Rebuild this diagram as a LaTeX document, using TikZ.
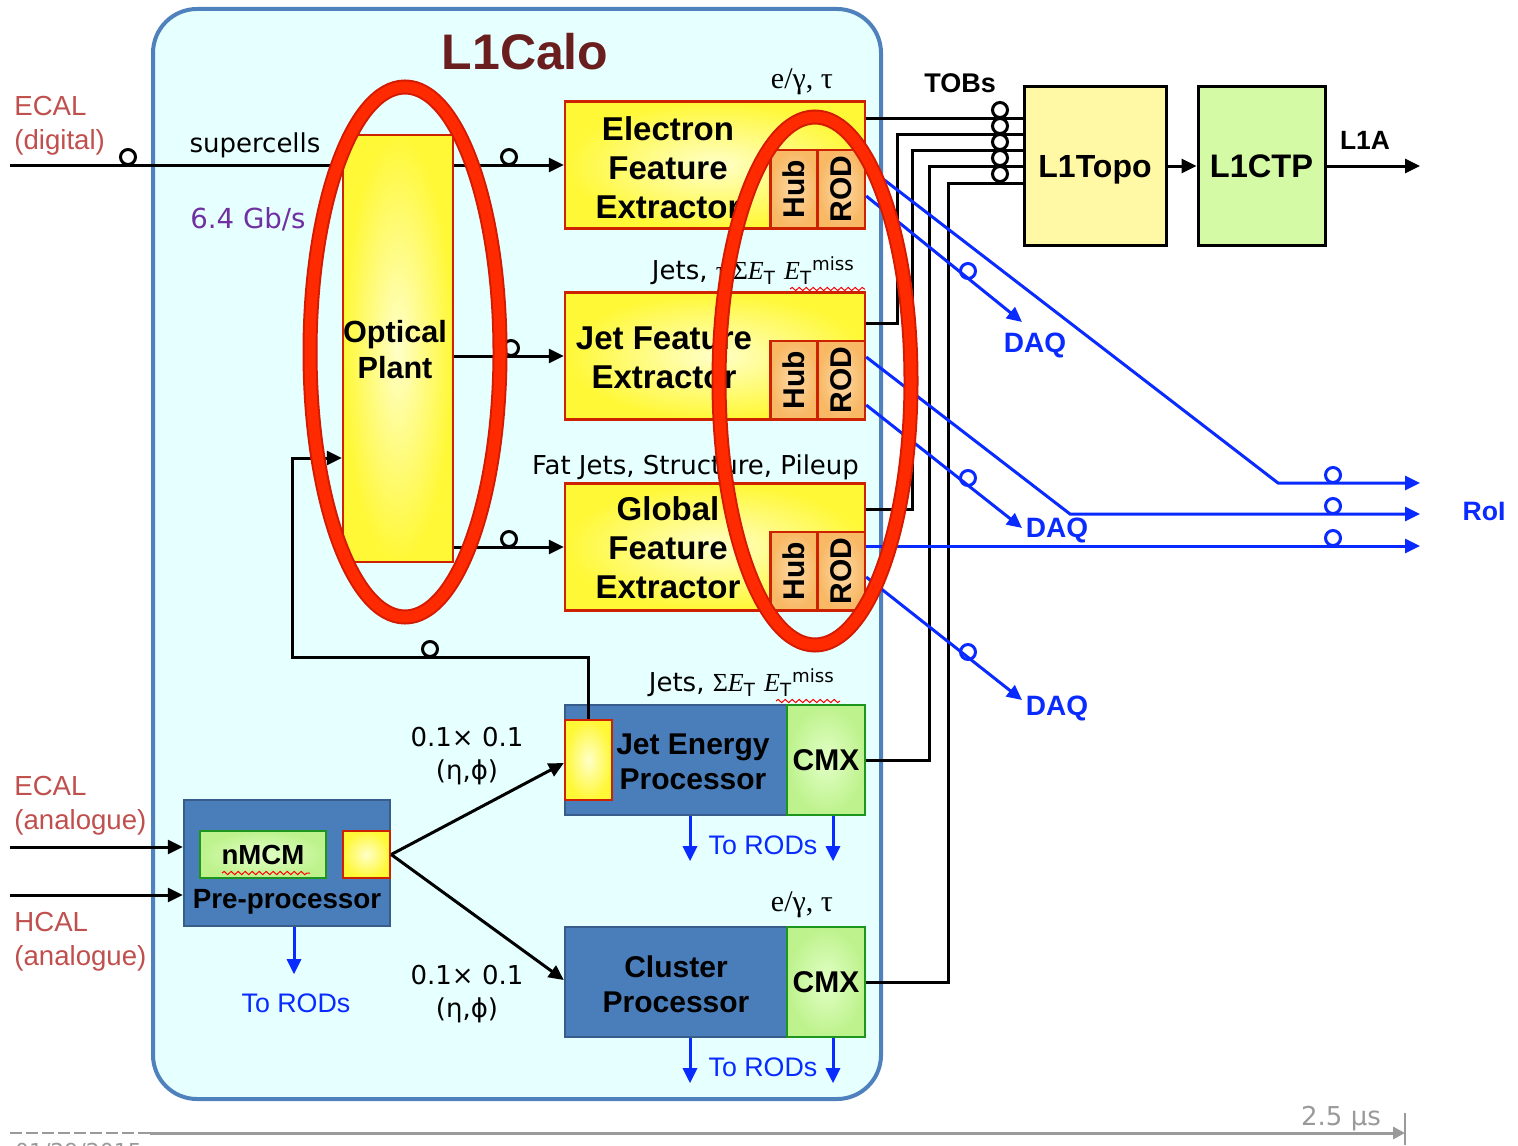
\documentclass[tikz,border=0pt]{standalone}
\usepackage{fontspec}
\setmainfont{Liberation Sans}
\newfontfamily\dvs{DejaVu Sans}
\newfontfamily\ser{Liberation Serif}
\usetikzlibrary{arrows.meta,decorations.pathmorphing,calc}
\definecolor{calofill}{HTML}{E6FFFF}
\definecolor{caloedge}{HTML}{4F81BD}
\definecolor{titlered}{HTML}{6B1E1E}
\definecolor{ecalred}{HTML}{C0504D}
\definecolor{boxred}{HTML}{CC2200}
\definecolor{brightyel}{HTML}{FFF836}
\definecolor{paleyel}{HTML}{FFFFC8}
\definecolor{hubin}{HTML}{FDD9A6}
\definecolor{hubout}{HTML}{F8B864}
\definecolor{ppblue}{HTML}{4A7EBB}
\definecolor{ppedge}{HTML}{385D8A}
\definecolor{cmxin}{HTML}{E2FFC6}
\definecolor{cmxout}{HTML}{BDF28C}
\definecolor{cmxedge}{HTML}{1E961E}
\definecolor{daqblue}{HTML}{0A2BFF}
\definecolor{ellred}{HTML}{FF2A00}
\definecolor{elldark}{HTML}{D41A00}
\definecolor{topoyel}{HTML}{FFF9A6}
\definecolor{ctpgreen}{HTML}{D4FAA6}
\definecolor{gbpurple}{HTML}{7030A0}
\definecolor{axisgray}{HTML}{9A9A9A}
\tikzset{
  wire/.style={line width=1.5pt, draw=black},
  arr/.style={wire, -{Triangle[length=7.5pt,width=7pt]}},
  bwire/.style={line width=1.5pt, draw=daqblue},
  barr/.style={bwire, -{Triangle[length=7.5pt,width=7pt]}},
  ring/.style={circle, draw=black, line width=1.5pt, inner sep=0pt, minimum size=7.5pt},
  bring/.style={ring, draw=daqblue},
  yelbox/.style={draw=boxred, line width=1.2pt, inner sep=0pt, inner color=paleyel, outer color=brightyel},
  fexbox/.style={yelbox, minimum width=150pt, minimum height=63.5pt},
  hubbox/.style={draw=boxred, line width=1.2pt, inner sep=0pt, inner color=hubin, outer color=hubout,
     rotate=90, minimum width=39pt, minimum height=23.5pt, font=\bfseries\fontsize{15}{15}\selectfont},
  bluebox/.style={draw=ppedge, line width=1.2pt, fill=ppblue, inner sep=0pt},
  cmxbox/.style={draw=cmxedge, line width=1.2pt, inner color=cmxin, outer color=cmxout, inner sep=0pt,
     minimum width=39pt, minimum height=55pt, font=\bfseries\fontsize{15}{15}\selectfont},
  fextext/.style={align=center, font=\bfseries\fontsize{16.5}{19.5}\selectfont},
  boldtext/.style={align=center, font=\bfseries\fontsize{15}{17.5}\selectfont},
  lbl/.style={font=\dvs\fontsize{13}{15}\selectfont},
  serlbl/.style={font=\ser\fontsize{15}{17}\selectfont},
  redtext/.style={align=left, text=ecalred, inner sep=0pt, font=\fontsize{13.8}{17}\selectfont},
  bluelbl/.style={text=daqblue, font=\fontsize{13.4}{15}\selectfont},
  daqlbl/.style={text=daqblue, font=\bfseries\fontsize{14}{15}\selectfont},
  wavy/.style={draw=red, line width=0.5pt, decorate, decoration={snake, segment length=3.5pt, amplitude=0.8pt}},
  hilite/.style={draw=elldark, line width=7.5pt},
  hilite2/.style={draw=ellred, line width=5.5pt},
}
\begin{document}
\begin{tikzpicture}[x=0.5pt,y=-0.5pt]
\useasboundingbox (0,0) rectangle (1518,1145);
\fill[white] (0,0) rectangle (1518,1145);

% L1Calo frame
\node[draw=caloedge, line width=2pt, fill=calofill, rounded corners=22pt, minimum width=364pt,
      minimum height=545pt, inner sep=0pt] (calo) at (517,554) {};
\node[text=titlered, font=\bfseries\fontsize{25}{25}\selectfont] (title) at (525,52) {L1Calo};

% ---------- boxes ----------
\node[yelbox, minimum width=55pt, minimum height=213.5pt] (opt) at (398,348.5) {};
\node[boldtext, font=\bfseries\fontsize{15.3}{18}\selectfont] (optt) at (395,350) {Optical\\Plant};

\node[fexbox] (efex) at (715,165) {};
\node[hubbox] (hub1) at (794,189) {Hub};
\node[hubbox] (rod1) at (841.5,189) {ROD};
\node[fextext] (efext) at (668,168) {Electron\\Feature\\Extractor};

\node[fexbox] (jfex) at (715,356) {};
\node[hubbox] (hub2) at (794,380) {Hub};
\node[hubbox] (rod2) at (841.5,380) {ROD};
\node[fextext] (jfext) at (664,358) {Jet Feature\\Extractor};

\node[fexbox] (gfex) at (715,547) {};
\node[hubbox] (hub3) at (794,571) {Hub};
\node[hubbox] (rod3) at (841.5,571) {ROD};
\node[fextext] (gfext) at (668,548) {Global\\Feature\\Extractor};

\node[bluebox, minimum width=103pt, minimum height=63pt] (pp) at (287,863) {};
\node[draw=cmxedge, line width=1.2pt, inner color=cmxin, outer color=cmxout, inner sep=0pt,
      minimum width=63pt, minimum height=23.5pt, font=\bfseries\fontsize{13.8}{14}\selectfont] (nmcm) at (263,854.5) {nMCM};
\node[yelbox, minimum width=23.5pt, minimum height=23.5pt] (ppy) at (366.5,854.5) {};
\node[boldtext, font=\bfseries\fontsize{13.9}{15}\selectfont] (ppt) at (287,902) {Pre-processor};

\node[bluebox, minimum width=150pt, minimum height=55pt] (jep) at (715,760) {};
\node[yelbox, minimum width=23.5pt, minimum height=40pt] (jepy) at (588.5,760) {};
\node[cmxbox] (cmx1) at (826,760) {CMX};
\node[boldtext] (jept) at (693,762) {Jet Energy\\Processor};

\node[bluebox, minimum width=150pt, minimum height=55pt] (cp) at (715,982) {};
\node[cmxbox] (cmx2) at (826,982) {CMX};
\node[boldtext] (cpt) at (676,984) {Cluster\\Processor};

\node[draw=black, line width=1.5pt, fill=topoyel, minimum width=71pt, minimum height=79pt, text depth=0pt,
      font=\bfseries\fontsize{16}{16}\selectfont] (topo) at (1095,166) {L1Topo};
\node[draw=black, line width=1.5pt, fill=ctpgreen, minimum width=63.5pt, minimum height=79pt, text depth=0pt,
      font=\bfseries\fontsize{16.3}{16}\selectfont] (ctp) at (1261.5,166) {L1CTP};

% ---------- labels ----------
\node[redtext, anchor=west] (ecald) at (14,126) {ECAL\\(digital)};
\node[redtext, anchor=west] (ecala) at (14,806) {ECAL\\(analogue)};
\node[redtext, anchor=west] (hcala) at (14,942) {HCAL\\(analogue)};
\node[lbl] (sc) at (255,145) {supercells};
\node[lbl, text=gbpurple, font=\dvs\fontsize{13.8}{15}\selectfont] (rate) at (248,219) {6.4 Gb/s};
\node[serlbl, anchor=east] (eglab) at (840,82) {e/γ, τ};
\node[lbl, anchor=east] (jlab) at (862,271) {Jets, {\ser τ Σ\textit{E}}\textsubscript{T} {\ser\textit{E}}\textsubscript{T}\textsuperscript{miss}};
\node[lbl, anchor=east] (glab) at (866,467) {Fat Jets, Structure, Pileup};
\node[lbl, anchor=east] (jeplab) at (842,683) {Jets, {\ser Σ\textit{E}}\textsubscript{T} {\ser\textit{E}}\textsubscript{T}\textsuperscript{miss}};
\node[serlbl, anchor=east] (cplab) at (840,905) {e/γ, τ};
\node[lbl, align=center, font=\dvs\fontsize{13}{16.5}\selectfont] (gran1) at (467,756) {0.1× 0.1\\(η,ϕ)};
\node[lbl, align=center, font=\dvs\fontsize{13}{16.5}\selectfont] (gran2) at (467,994) {0.1× 0.1\\(η,ϕ)};
\node[font=\bfseries\fontsize{13.5}{14}\selectfont] (tobs) at (960,83) {TOBs};
\node[font=\bfseries\fontsize{13.2}{14}\selectfont] (l1a) at (1365,140) {L1A};
\node[bluelbl] (rods0) at (296,1003) {To RODs};
\node[bluelbl] (rods1) at (763,845) {To RODs};
\node[bluelbl] (rods2) at (763,1067) {To RODs};
\node[daqlbl] (daq1) at (1035,345) {DAQ};
\node[daqlbl] (daq2) at (1057,530) {DAQ};
\node[daqlbl] (daq3) at (1057,708) {DAQ};
\node[daqlbl, font=\bfseries\fontsize{13.3}{15}\selectfont] (roi) at (1484,511) {RoI};

% red spell-check squiggles
\draw[wavy] (790,289) -- (865,289);
\draw[wavy] (776,701) -- (840,701);
\draw[wavy] (222,873) -- (310,873);

% ---------- black connectors ----------
\coordinate (ecalin) at (10,165);
\coordinate (ecalain) at (10,847);
\coordinate (hcalain) at (10,895);
\draw[wire] (ecalin) -- (opt.west |- ecalin);
\draw[arr] (opt.east |- efex.west) -- (efex.west);
\draw[arr] (opt.east |- jfex.west) -- (jfex.west);
\draw[arr] (opt.east |- gfex.west) -- (gfex.west);
\node[ring] (r1) at (128,157) {};
\node[ring] (r2) at (509,157) {};
\node[ring] (r3) at (511,348) {};
\node[ring] (r4) at (509,539) {};
\coordinate (fbc) at (292,657);
\coordinate (fbin) at (0,458);
\draw[arr] (jepy.north) |- (fbc) |- (opt.west |- fbin);
\node[ring] (r5) at (430,649) {};

\draw[arr] (ecalain) -- (pp.west |- ecalain);
\draw[arr] (hcalain) -- (pp.west |- hcalain);
\draw[arr] (ppy.east) -- (jep.west |- 0,763);
\draw[arr] (ppy.east) -- (cp.west |- 0,980);

% TOBs to L1Topo
\draw[wire] (efex.east |- 0,118) -- (topo.west |- 0,118);
\draw[wire] (jfex.east |- 0,323) -| (897,134) -- (topo.west |- 0,134);
\draw[wire] (gfex.east |- 0,509) -| (912,150) -- (topo.west |- 0,150);
\draw[wire] (cmx1.east) -| (929,166) -- (topo.west |- 0,166);
\draw[wire] (cmx2.east) -| (948,183) -- (topo.west |- 0,183);
\foreach \yy/\nn in {110/a,126/b,142/c,158/d,174/e} \node[ring] (tob\nn) at (1000,\yy) {};
\draw[arr] (topo.east) -- (ctp.west);
\coordinate (l1aend) at (1420,166);
\draw[arr] (ctp.east) -- (l1aend);

% ---------- blue connectors ----------
\draw[barr] (pp.south -| 294,0) -- ++(0,47);
\draw[barr] (jep.south -| 690,0) -- ++(0,45);
\draw[barr] (jep.south -| 833,0) -- ++(0,45);
\draw[barr] (cp.south -| 690,0) -- ++(0,45);
\draw[barr] (cp.south -| 833,0) -- ++(0,45);

\coordinate (roi1) at (1420,483);
\coordinate (roi2) at (1420,514);
\coordinate (roi3) at (1420,546);
\coordinate (daq1tip) at (1022,322);
\coordinate (daq2tip) at (1022,528);
\coordinate (daq3tip) at (1022,700);
\draw[barr] (rod1.south |- 0,166) -- (1278,483) -- (roi1);
\draw[barr] (rod1.south |- 0,196) -- (daq1tip);
\draw[barr] (rod2.south |- 0,357) -- (1070,514) -- (roi2);
\draw[barr] (rod2.south |- 0,405) -- (daq2tip);
\draw[barr] (rod3.south |- 0,546) -- (roi3);
\draw[barr] (rod3.south |- 0,577) -- (daq3tip);
\node[bring] (b1) at (968,271) {};
\node[bring] (b2) at (968,478) {};
\node[bring] (b3) at (968,652) {};
\node[bring] (b4) at (1333,475) {};
\node[bring] (b5) at (1333,506) {};
\node[bring] (b6) at (1333,538) {};

% ---------- highlight ellipses ----------
\draw[hilite] (405,352) ellipse [x radius=47.5pt, y radius=132.5pt];
\draw[hilite2] (405,352) ellipse [x radius=47.5pt, y radius=132.5pt];
\draw[hilite] (815,381) ellipse [x radius=48pt, y radius=132pt];
\draw[hilite2] (815,381) ellipse [x radius=48pt, y radius=132pt];

% ---------- time axis ----------
\coordinate (ax0) at (10,1133);
\coordinate (ax1) at (150,1133);
\coordinate (ax2) at (1405,1133);
\coordinate (tk0) at (1405,1113);
\coordinate (tk1) at (1405,1145);
\draw[axisgray, line width=1.3pt, dash pattern=on 6pt off 2pt] (ax0) -- (ax1);
\draw[axisgray, line width=1.5pt, -{Triangle[length=6pt,width=6pt]}] (ax1) -- (ax2);
\draw[axisgray, line width=1pt] (tk0) -- (tk1);
\node[text=axisgray, font=\dvs\fontsize{13}{15}\selectfont] (t25) at (1341,1119) {2.5 μs};
\node[anchor=north west, text=axisgray, font=\dvs\fontsize{11}{12}\selectfont] (date) at (8,1136) {01/29/2015};
\end{tikzpicture}
\end{document}
